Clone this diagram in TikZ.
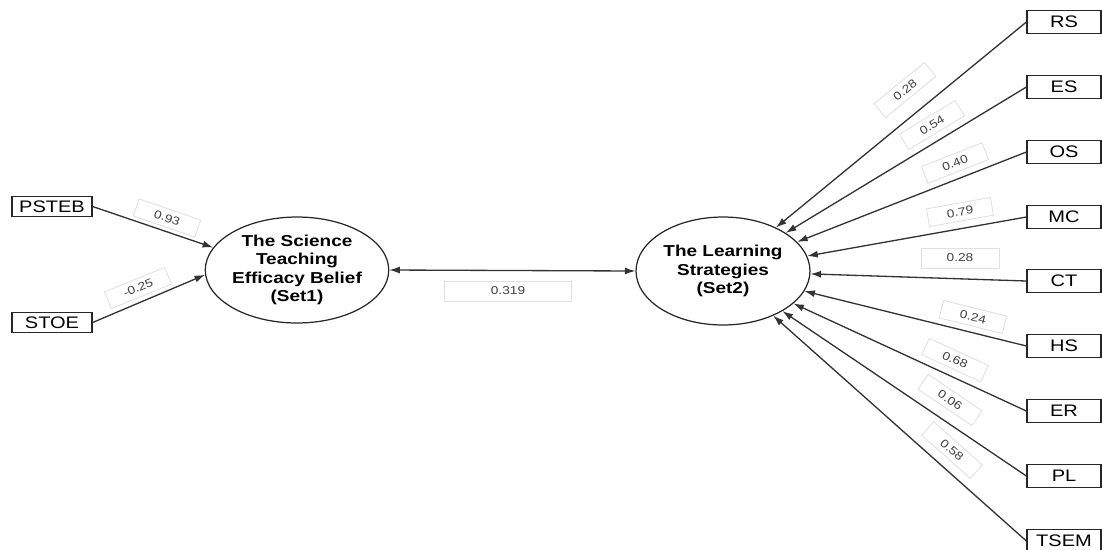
\documentclass[tikz,border=0pt]{standalone}
\usepackage{fontspec}
\setmainfont{Liberation Sans}[FakeStretch=1.2]
\usetikzlibrary{arrows.meta,shapes.geometric}
\begin{document}
\begin{tikzpicture}[x=0.02cm,y=-0.02cm,
  box/.style={draw=black!85, line width=0.7pt, rectangle, minimum width=1.6cm, minimum height=0.4cm, inner sep=0pt, font=\fontsize{9.5}{11}\selectfont},
  rbox/.style={box, minimum width=1.48cm, minimum height=0.46cm},
  lat/.style={draw=black!85, line width=0.7pt, ellipse, inner sep=0pt, align=center, font=\fontsize{9}{10.5}\selectfont\bfseries},
  tip/.tip={Latex[length=6pt,width=4pt]},
  link/.style={draw=black!80, line width=0.75pt, -tip},
  coef/.style={draw=black!12, line width=0.5pt, minimum width=1.3cm, minimum height=0.36cm, inner sep=0pt, font=\fontsize{6.5}{7}\selectfont, text=black!75}]
\useasboundingbox (0,0) rectangle (1102,549);
% left indicators
\node[box] (psteb) at (52,206.5) {PSTEB};
\node[box] (stoe) at (52,322.5) {STOE};
% latent variables
\node[lat, minimum width=3.6cm, minimum height=2.12cm] (L) at (297,270) {The Science\\Teaching\\Efficacy Belief\\(Set1)};
\node[lat, minimum width=3.48cm, minimum height=2.16cm] (R) at (723,271) {The Learning\\Strategies\\(Set2)};
% right indicators
\foreach \n/\t/\y in {rs/RS/22, es/ES/87, os/OS/152, mc/MC/217, ct/CT/281, hs/HS/346, er/ER/411, pl/PL/476, tsem/TSEM/541}
  \node[rbox] (\n) at (1064,\y) {\t};
% connectors
\draw[link] (psteb.east) -- (L.165);
\draw[link] (stoe.east) -- (L.183);
\draw[link, tip-tip] (L.east) -- (R.west);
\foreach \n in {rs,es,os,mc,ct,hs,er,pl,tsem}
  \draw[link] (\n.west) -- (R);
% coefficients
\node[coef, rotate=-18.9] (c1) at (167,218) {0.93};
\node[coef, rotate=22.2] (c2) at (138,288) {-0.25};
\node[coef, minimum width=2.54cm, minimum height=0.4cm] (c3) at (508,291) {0.319};
\node[coef, rotate=39.3] (c4) at (905,90) {0.28};
\node[coef, rotate=31.2] (c5) at (932,125) {0.54};
\node[coef, rotate=21.4] (c6) at (955,163) {0.40};
\node[coef, rotate=10.1] (c7) at (960,212) {0.79};
\node[coef, minimum width=1.56cm, minimum height=0.4cm] (c8) at (960,258) {0.28};
\node[coef, rotate=-13.9] (c9) at (973,317) {0.24};
\node[coef, rotate=-24.7] (c10) at (955,360) {0.68};
\node[coef, rotate=-34.0] (c11) at (950,400) {0.06};
\node[coef, rotate=-41.6] (c12) at (952,450) {0.58};
\end{tikzpicture}
\end{document}
